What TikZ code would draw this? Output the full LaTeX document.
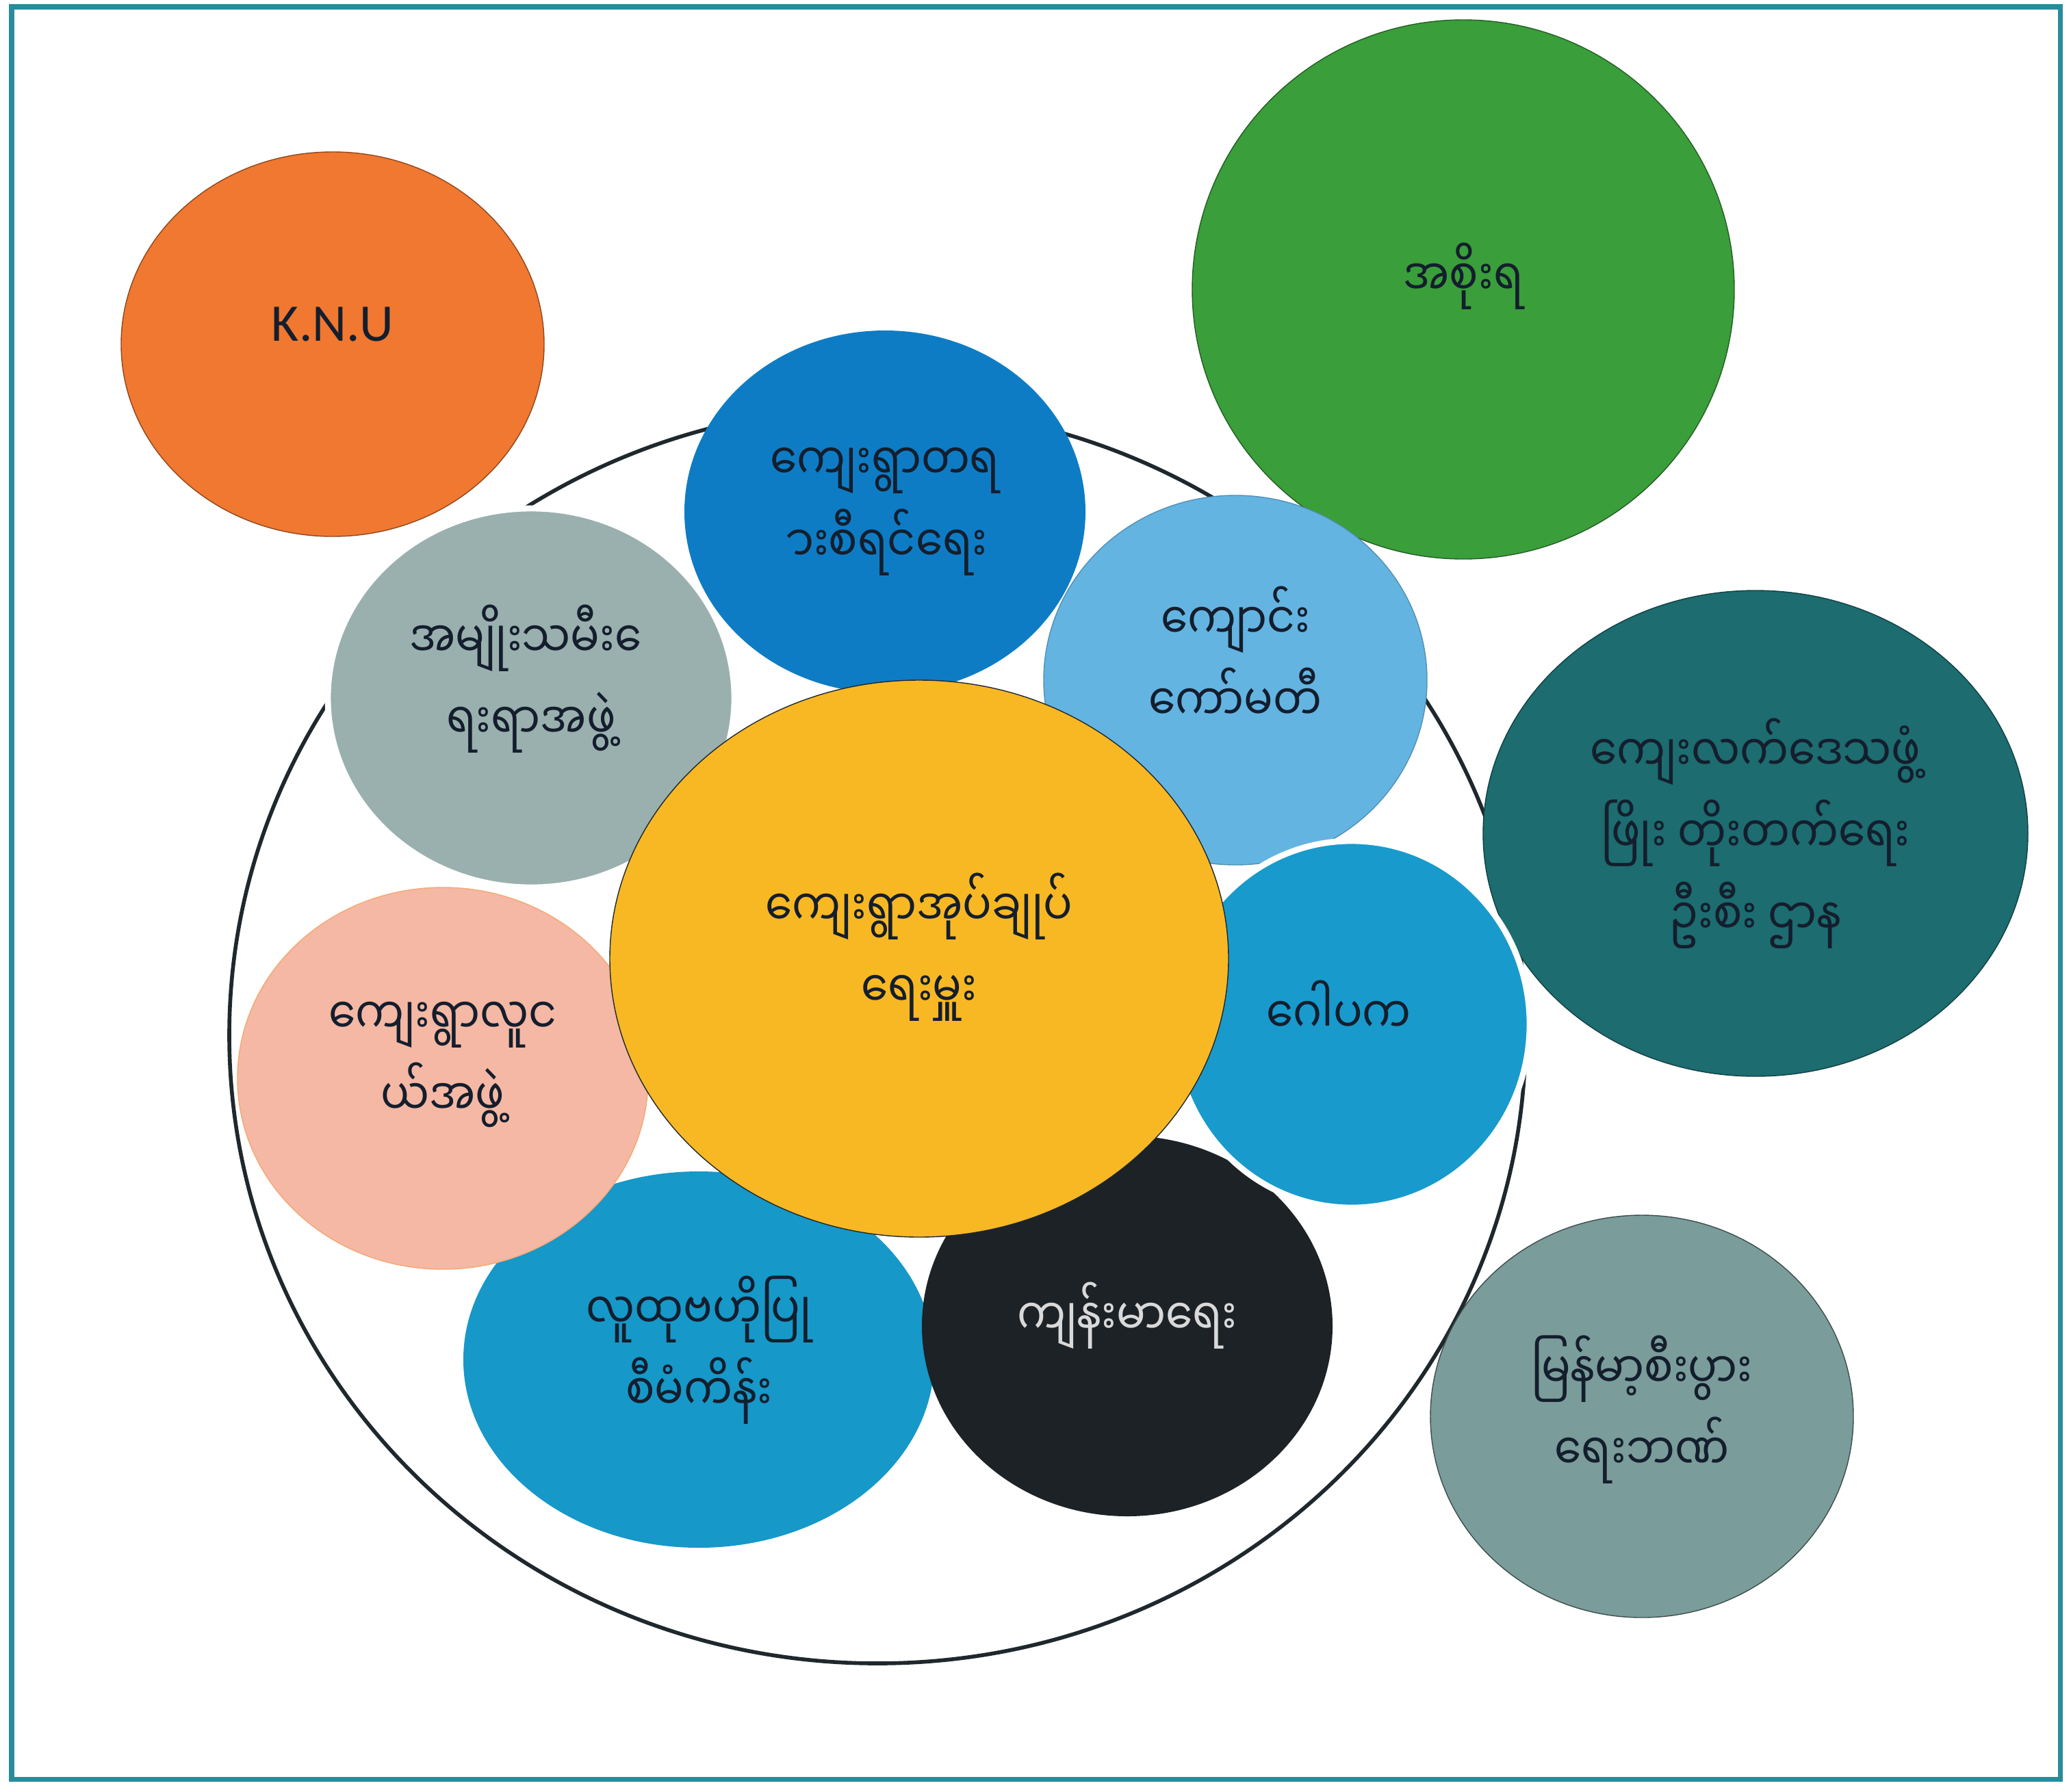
\documentclass[tikz,border=0pt]{standalone}
\usepackage{fontspec}
\setmainfont{Carlito}
\newfontfamily\mmfont[Script=Myanmar, FakeStretch=0.855]{Noto Sans Myanmar UI}
\usetikzlibrary{shapes.geometric}

\begin{document}
\begin{tikzpicture}[
        bubble/.style={ellipse, inner sep=0pt},
        bubbletext/.style={align=center, text=ink, inner sep=0pt,
            font=\mmfont\fontsize{21}{34}\selectfont},
        whitering/.style={draw=white, line width=2.5pt}
    ]
        % Colours of the bubbles
        \definecolor{ink}{RGB}{20, 30, 45}
        \definecolor{framecol}{RGB}{40, 140, 155}
        \definecolor{ringcol}{RGB}{30, 40, 45}
        \definecolor{knucol}{RGB}{240, 120, 48}
        \definecolor{govcol}{RGB}{58, 158, 58}
        \definecolor{courtcol}{RGB}{14, 124, 196}
        \definecolor{schoolcol}{RGB}{100, 180, 226}
        \definecolor{womencol}{RGB}{154, 176, 174}
        \definecolor{headcol}{RGB}{248, 184, 36}
        \definecolor{youthcol}{RGB}{244, 184, 164}
        \definecolor{gopakacol}{RGB}{24, 154, 204}
        \definecolor{commcol}{RGB}{22, 152, 200}
        \definecolor{healthcol}{RGB}{28, 34, 38}
        \definecolor{deptcol}{RGB}{28, 108, 112}
        \definecolor{bankcol}{RGB}{122, 156, 154}

        % Page and frame
        \useasboundingbox (0,0) rectangle (30.26,-26.18);
        \fill[white] (0,0) rectangle (30.26,-26.18);
        \draw[framecol, line width=2pt] (0.17,-0.10) rectangle (30.10,-26.00);

        % Ring round the village groups
        \draw[ringcol, line width=1.6pt] (12.82,-15.13) ellipse [x radius=9.47, y radius=9.18];

        % Outside the ring
        \node[bubble, fill=knucol, draw=knucol!60!black, minimum width=6.18cm, minimum height=5.62cm]
            (knu) at (4.86,-5.03) {};
        \node[bubbletext, font=\fontsize{22}{26}\selectfont] (knutext) at ([yshift=0.29cm]knu) {K.N.U};

        \node[bubble, fill=govcol, draw=govcol!60!black, minimum width=7.92cm, minimum height=7.88cm]
            (gov) at (21.38,-4.23) {};
        \node[bubbletext] (govtext) at ([yshift=0.19cm]gov) {အစိုးရ};

        \node[bubble, fill=deptcol, draw=deptcol!60!black, minimum width=7.96cm, minimum height=7.10cm]
            (dept) at (25.65,-12.18) {};
        \node[bubbletext] (depttext) at (dept) {ကျေးလက်ဒေသဖွံ့\\ဖြိုး တိုးတက်ရေး\\ဦးစီး ဌာန};

        \node[bubble, fill=bankcol, draw=bankcol!50!black, minimum width=6.18cm, minimum height=5.88cm]
            (bank) at (23.99,-20.70) {};
        \node[bubbletext] (banktext) at ([yshift=0.10cm]bank) {မြန်မာ့စီးပွား\\ရေးဘဏ်};

        % Inside the ring
        \node[bubble, fill=courtcol, minimum width=5.86cm, minimum height=5.30cm]
            (court) at (12.93,-7.48) {};
        \node[bubbletext] (courttext) at (court) {ကျေးရွာတရ\\^^^^00a0ားစီရင်ရေး};

        \node[bubble, fill=schoolcol, draw=schoolcol!80!black, minimum width=5.60cm, minimum height=5.40cm]
            (school) at (18.05,-9.94) {};
        \node[bubbletext] (schooltext) at ([yshift=0.39cm]school) {ကျောင်း\\ကော်မတီ};

        \node[bubble, whitering, fill=womencol, minimum width=5.94cm, minimum height=5.54cm]
            (women) at (7.76,-10.20) {};
        \node[bubbletext] (womentext) at ([yshift=0.28cm]women) {အမျိုးသမီး^^^^00a0ေ\\ရးရာအဖွဲ့};

        \node[bubble, fill=commcol, minimum width=6.88cm, minimum height=5.50cm]
            (comm) at (10.21,-19.87) {};
        \node[bubbletext] (commtext) at ([yshift=0.14cm]comm) {လူထုဗဟိုပြု\\စီမံကိန်း};

        \node[bubble, fill=healthcol, minimum width=6.00cm, minimum height=5.56cm]
            (health) at (16.47,-19.38) {};
        \node[bubbletext, text=white!85!black] (healthtext) at ([yshift=0.15cm]health) {ကျန်းမာရေး};

        \node[bubble, whitering, fill=gopakacol, minimum width=5.20cm, minimum height=5.36cm]
            (gopaka) at (19.75,-14.97) {};
        \node[bubbletext] (gopakatext) at ([shift={(-0.19cm,0.25cm)}]gopaka) {ဂေါပက};

        \node[bubble, fill=youthcol, draw=youthcol!70!orange, minimum width=6.00cm, minimum height=5.58cm]
            (youth) at (6.47,-15.76) {};
        \node[bubbletext] (youthtext) at ([yshift=0.20cm]youth) {ကျေးရွာလူင\\ယ်အဖွဲ့};

        % Village head in the middle
        \node[bubble, fill=headcol, draw=ringcol, minimum width=9.04cm, minimum height=8.14cm]
            (head) at (13.43,-14.01) {};
        \node[bubbletext] (headtext) at ([yshift=0.17cm]head) {ကျေးရွာအုပ်ချုပ်\\ရေးမှူး};
    \end{tikzpicture}
\end{document}
